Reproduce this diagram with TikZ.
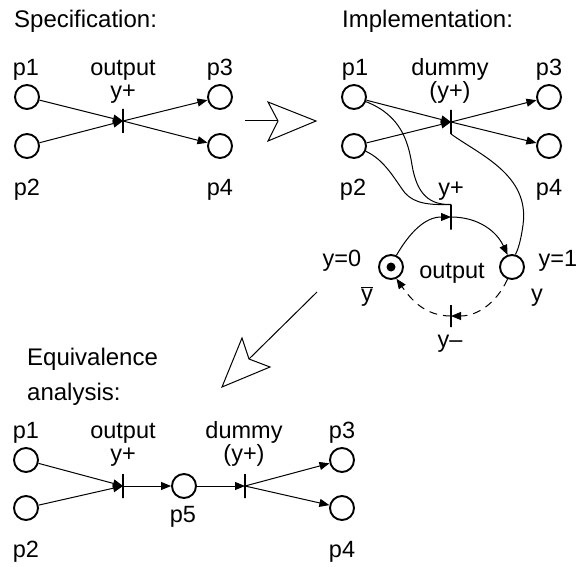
\documentclass[tikz,border=0pt]{standalone}
\usepackage{fontspec}
\setmainfont{Liberation Sans}
\usetikzlibrary{arrows.meta}
\begin{document}
\begin{tikzpicture}[x=1pt,y=-1pt,
  place/.style={circle,draw,line width=1.9pt,minimum size=24pt,inner sep=0pt},
  trans/.style={rectangle,draw,line width=1.8pt,minimum width=0pt,minimum height=24pt,inner sep=0pt,outer sep=0pt},
  arc/.style={line width=1pt,-{Triangle[length=10pt,width=8pt]}},
  plainarc/.style={line width=1pt},
  dasharc/.style={line width=1pt,dash pattern=on 8pt off 6pt,-{Triangle[length=10pt,width=8pt]}},
  lbl/.style={anchor=base,inner sep=0pt,font=\fontsize{23.5}{28}\selectfont},
  title/.style={anchor=base west,inner sep=0pt,font=\fontsize{24}{28}\selectfont},
  hollow/.style={line width=1pt,line join=miter,fill=white}]
\useasboundingbox (0,0) rectangle (581,567);

% ---------- Specification ----------
\node[title] (tspec) at (14,28) {Specification:};
\node[place] (sp1) at (27,97) {};
\node[place] (sp2) at (27,146) {};
\node[trans] (st) at (123,121) {};
\node[place] (sp3) at (220,97) {};
\node[place] (sp4) at (220,146) {};
\node[lbl] (lsp1) at (26,76) {p1};
\node[lbl] (lsout) at (123,76) {output};
\node[lbl] (lsy) at (123,99) {y+};
\node[lbl] (lsp3) at (220,76) {p3};
\node[lbl] (lsp2) at (27,195) {p2};
\node[lbl] (lsp4) at (220,195) {p4};
\draw[arc] (sp1) -- (st.center);
\draw[arc] (sp2) -- (st.center);
\draw[arc] (st.center) -- (sp3);
\draw[arc] (st.center) -- (sp4);

% ---------- hollow arrow right ----------
\coordinate (ha1) at (245,121);
\coordinate (ha2) at (278,121);
\draw[line width=1pt] (ha1) -- (ha2);
\draw[hollow] (ha2) -- (268,102) -- (316,121) -- (268,141) -- cycle;

% ---------- Implementation ----------
\node[title] (timpl) at (342,28) {Implementation:};
\node[place] (ip1) at (354,97) {};
\node[place] (ip2) at (354,146) {};
\node[trans] (it) at (451,122) {};
\node[place] (ip3) at (549,97) {};
\node[place] (ip4) at (549,146) {};
\node[lbl] (lip1) at (355,76) {p1};
\node[lbl] (lidum) at (450,76) {dummy};
\node[lbl] (liy) at (450,99) {(y+)};
\node[lbl] (lip3) at (549,76) {p3};
\node[lbl] (lip2) at (353,195) {p2};
\node[lbl] (liyp) at (451,195) {y+};
\node[lbl] (lip4) at (549,195) {p4};
\draw[arc] (ip1) -- (it.center);
\draw[arc] (ip2) -- (it.center);
\draw[arc] (it.center) -- (ip3);
\draw[arc] (it.center) -- (ip4);

\node[trans,minimum height=25pt] (tl) at (451,217) {};
\node[place] (yb) at (391,267) {};
\fill (yb.center) circle (4.5pt);
\node[place] (yy) at (512,267) {};
\node[trans,minimum height=22pt] (tm) at (451,316) {};
\node[lbl] (ly0) at (342,266) {y=0};
\node[lbl] (ly1) at (558,266) {y=1};
\node[lbl] (lout) at (452,278) {output};
\node[lbl] (lyb) at (367,301) {$\overline{\mbox{y}}$};
\node[lbl] (lyy) at (537,301) {y};
\node[lbl] (lym) at (450,347) {y–};

\draw[plainarc] (ip1) .. controls (400,115) and (408,140) .. (412,165)
   .. controls (417,195) and (430,205) .. (tl.north);
\draw[plainarc] (ip2) .. controls (385,160) and (395,180) .. (405,193)
   .. controls (415,204) and (430,205) .. (tl.north);
\draw[plainarc] (it.south) .. controls (480,155) and (530,175) .. (523,225)
   .. controls (521,240) and (518,250) .. (yy.75);
\draw[arc] (yb.65) to[out=60,in=180] (tl.center);
\draw[arc] (tl.center) to[out=0,in=115] (yy.110);
\draw[dasharc] (yy.-110) to[out=-115,in=0] (tm.center);
\draw[dasharc] (tm.center) to[out=180,in=-55] (yb.-65);

% ---------- hollow arrow diagonal ----------
\coordinate (hb1) at (317,292);
\coordinate (hb2) at (249,359);
\draw[line width=1pt] (hb1) -- (hb2);
\draw[hollow] (hb2) -- (242,338) -- (222,387) -- (270,367) -- cycle;

% ---------- Equivalence analysis ----------
\node[title] (teq1) at (27,365) {Equivalence};
\node[title] (teq2) at (27,400) {analysis:};
\node[place] (ep1) at (26,460) {};
\node[place] (ep2) at (26,508) {};
\node[trans] (et1) at (123,486) {};
\node[place] (ep5) at (184,486) {};
\node[trans] (et2) at (245,486) {};
\node[place] (ep3) at (342,460) {};
\node[place] (ep4) at (342,508) {};
\node[lbl] (lep1) at (26,438) {p1};
\node[lbl] (leout) at (123,438) {output};
\node[lbl] (ley) at (123,461) {y+};
\node[lbl] (ledum) at (244,438) {dummy};
\node[lbl] (ley2) at (244,461) {(y+)};
\node[lbl] (lep3) at (342,438) {p3};
\node[lbl] (lep5) at (183,522) {p5};
\node[lbl] (lep2) at (26,557) {p2};
\node[lbl] (lep4) at (342,557) {p4};
\draw[arc] (ep1) -- (et1.center);
\draw[arc] (ep2) -- (et1.center);
\draw[arc] (et1.center) -- (ep5);
\draw[arc] (ep5) -- (et2.center);
\draw[arc] (et2.center) -- (ep3);
\draw[arc] (et2.center) -- (ep4);
\end{tikzpicture}
\end{document}
